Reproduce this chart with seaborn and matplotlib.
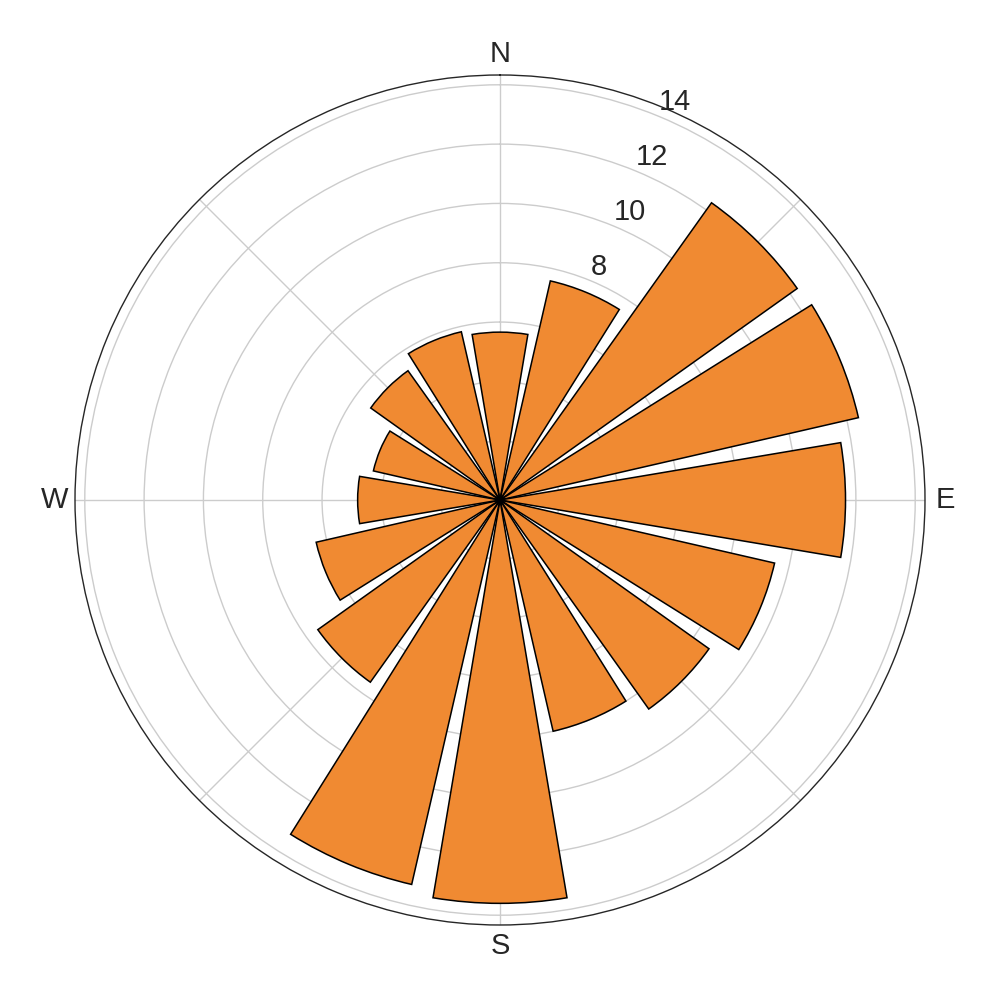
import numpy as np
import pandas as pd
import seaborn as sns
from matplotlib import pyplot as plt

# wind rose data, 16 compass sectors, clockwise from north
directions = ['N', 'NNE', 'NE', 'ENE', 'E', 'ESE', 'SE', 'SSE',
              'S', 'SSW', 'SW', 'WSW', 'W', 'WNW', 'NW', 'NNW']
angles_deg = [0, 22.5, 45, 67.5, 90, 112.5, 135, 157.5,
              180, 202.5, 225, 247.5, 270, 292.5, 315, 337.5]
speeds = [5.66, 7.58, 12.3, 12.4, 11.65, 9.5, 8.65, 8.0,
          13.6, 13.3, 7.54, 6.36, 4.8, 4.38, 5.35, 5.82]

compass_labels = ['N', 'E', 'S', 'W']
radial_ticks = [2, 4, 6, 8, 10, 12, 14]

df = pd.DataFrame({'dir': directions, 'angle': angles_deg, 'speed': speeds})

sns.set_theme(style="whitegrid")
plt.rcParams['font.family'] = ['Liberation Sans', 'DejaVu Sans']

fig = plt.figure(figsize=(10, 10), dpi=100)
ax = fig.add_axes([0.075, 0.075, 0.85, 0.85], projection='polar')
ax.set_theta_zero_location('N')
ax.set_theta_direction(-1)

width = np.deg2rad(22.5) * 0.85
ax.bar(np.deg2rad(df['angle']), df['speed'], width=width,
       color='#F08A32', edgecolor='black', linewidth=1.1)

ax.set_ylim(0, 14.33)
ax.set_yticks(radial_ticks)
ax.set_yticklabels([str(t) for t in radial_ticks], fontsize=21, color='#262626')
ax.set_rlabel_position(22.5)

ax.set_xticks(np.deg2rad([0, 90, 180, 270]))
ax.set_xticklabels(compass_labels, fontsize=21, color='#262626')
ax.set_xticks(np.deg2rad(np.arange(0, 360, 45)), minor=True)
ax.xaxis.grid(True, which='both', color='#cccccc', linewidth=1)
ax.yaxis.grid(True, color='#cccccc', linewidth=1)
ax.tick_params(axis='x', pad=2)

ax.spines['polar'].set_color('#262626')
ax.spines['polar'].set_linewidth(1)

plt.savefig('out.png', dpi=100)
